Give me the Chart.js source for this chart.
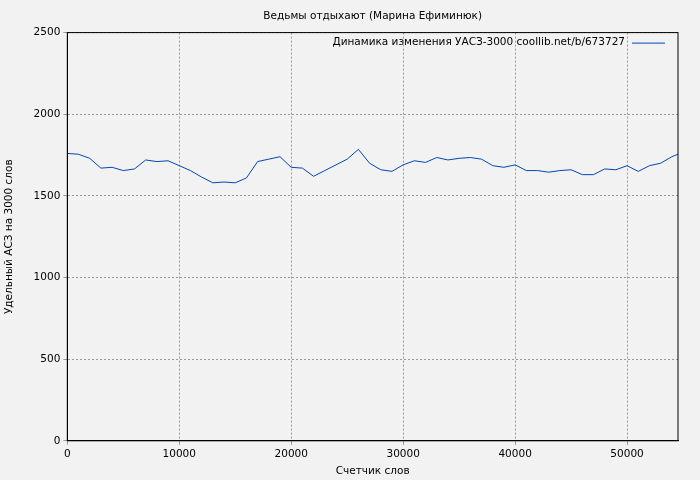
<!DOCTYPE html>
<html><head><meta charset="utf-8">
<script src="https://cdn.jsdelivr.net/npm/chart.js@4/dist/chart.umd.min.js"></script>
<style>html,body{margin:0;background:#f2f2f2}#wrap{width:700px;height:480px}</style>
</head><body><div id="wrap"><canvas id="c"></canvas></div>
<script>
const words = [0,1000,2000,3000,4000,5000,6000,7000,8000,9000,10000,11000,12000,13000,14000,15000,16000,17000,18000,19000,20000,21000,22000,23000,24000,25000,26000,27000,28000,29000,30000,31000,32000,33000,34000,35000,36000,37000,38000,39000,40000,41000,42000,43000,44000,45000,46000,47000,48000,49000,50000,51000,52000,53000,54000,54550];
const uasz = [1760,1755,1730,1670,1675,1655,1665,1720,1710,1715,1685,1655,1615,1580,1585,1580,1610,1710,1725,1740,1675,1670,1620,1655,1690,1725,1785,1700,1660,1650,1690,1715,1705,1735,1720,1730,1735,1725,1685,1675,1690,1655,1655,1645,1655,1660,1630,1630,1665,1660,1685,1650,1685,1700,1740,1755];
const xTicks = [0,10000,20000,30000,40000,50000];
const titleText = 'Ведьмы отдыхают (Марина Ефиминюк)';
const seriesLabel = 'Динамика изменения УАСЗ-3000 coollib.net/b/673727';

Chart.defaults.font.family = 'DejaVu Sans';
Chart.defaults.font.size = 10.5;
Chart.defaults.color = '#000';

const legendPlugin = {
  id: 'leg',
  afterDraw(chart) {
    const {ctx, chartArea} = chart;
    ctx.save();
    ctx.font = '10.5px DejaVu Sans';
    ctx.fillStyle = '#000';
    ctx.textBaseline = 'middle';
    ctx.textAlign = 'center';
    ctx.fillText(titleText, (chartArea.left + chartArea.right) / 2, 16);
    ctx.textAlign = 'right';
    const y = chartArea.top + 10;
    ctx.fillText(seriesLabel, chartArea.right - 53, y);
    ctx.strokeStyle = '#0047b3';
    ctx.lineWidth = 1;
    ctx.beginPath();
    ctx.moveTo(chartArea.right - 46, y + 0.5);
    ctx.lineTo(chartArea.right - 13, y + 0.5);
    ctx.stroke();
    ctx.strokeStyle = '#000';
    ctx.strokeRect(chartArea.left, chartArea.top, chartArea.right - chartArea.left, chartArea.bottom - chartArea.top);
    ctx.restore();
  }
};

new Chart(document.getElementById('c'), {
  type: 'line',
  data: {
    datasets: [{
      data: words.map((w, i) => ({x: w, y: uasz[i]})),
      borderColor: '#0047b3',
      borderWidth: 1,
      pointRadius: 0,
      tension: 0
    }]
  },
  options: {
    responsive: true,
    maintainAspectRatio: false,
    animation: false,
    layout: {padding: {left: 3, right: 22, top: 0, bottom: 2}},
    plugins: {
      legend: {display: false},
      tooltip: {enabled: false},
      title: {display: true, text: titleText, color: 'rgba(0,0,0,0)', font: {size: 10.5, weight: 'normal'}, padding: {top: 10, bottom: 10}}
    },
    scales: {
      x: {
        type: 'linear', min: 0, max: 54550,
        afterBuildTicks: axis => { axis.ticks = xTicks.map(v => ({value: v})); },
        ticks: {maxRotation: 0, autoSkip: false, callback: v => String(v)},
        grid: {color: '#999', tickLength: 4},
        border: {dash: [2, 2], color: '#000'},
        title: {display: true, text: 'Счетчик слов', padding: {top: 2, bottom: 0}}
      },
      y: {
        min: 0, max: 2500,
        ticks: {stepSize: 500, callback: v => String(v)},
        grid: {color: '#999', tickLength: 4},
        border: {dash: [2, 2], color: '#000'},
        title: {display: true, text: 'Удельный АСЗ на 3000 слов', padding: {top: 0, bottom: 15}}
      }
    }
  },
  plugins: [legendPlugin]
});
</script></body></html>
